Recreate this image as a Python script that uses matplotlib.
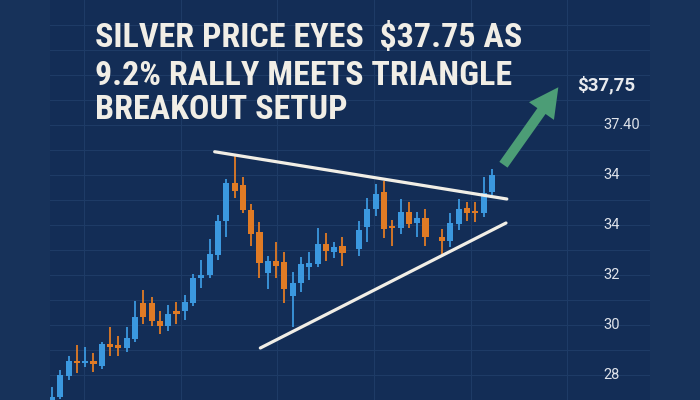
import numpy as np
import matplotlib
matplotlib.use("Agg")
import matplotlib.pyplot as plt
from matplotlib import font_manager as fm
from matplotlib.patches import FancyArrowPatch, ArrowStyle

# ---------------- data ----------------
days = list(range(0, 36)) + list(range(37, 46)) + list(range(47, 54))
opens  = [26.80, 27.12, 27.96, 28.57, 28.48, 28.56, 28.36, 29.24, 29.20, 29.08,
          29.44, 30.88, 30.88, 30.16, 29.96, 30.56, 30.56, 30.88, 31.88, 32.00,
          32.80, 34.16, 35.68, 35.60, 34.60, 33.72, 32.08, 32.56, 32.52, 31.16,
          31.68, 32.32, 32.44, 33.24, 32.92, 33.16, 33.04, 33.92, 34.64, 35.32,
          33.96, 33.88, 34.52, 34.08, 34.28, 33.52, 33.36, 34.04, 34.68, 34.56,
          34.48, 35.32]
closes = [27.12, 28.00, 28.56, 28.47, 28.56, 28.44, 29.24, 29.12, 29.08, 29.48,
          30.32, 30.32, 30.16, 29.96, 30.44, 30.44, 30.92, 31.88, 32.00, 32.84,
          34.16, 35.68, 35.36, 34.60, 33.64, 32.48, 32.56, 32.36, 31.44, 31.68,
          32.44, 32.48, 33.24, 32.96, 33.12, 32.88, 33.80, 34.64, 35.24, 33.84,
          33.88, 34.52, 34.04, 34.28, 33.52, 33.36, 34.08, 34.64, 34.48, 34.48,
          35.28, 36.00]
highs  = [27.52, 28.20, 28.76, 29.20, 29.12, 28.88, 29.32, 29.92, 29.56, 29.92,
          30.96, 31.40, 31.12, 30.56, 30.80, 30.92, 31.20, 32.04, 32.60, 33.44,
          34.40, 35.84, 36.80, 35.92, 34.84, 34.12, 32.76, 33.32, 32.92, 32.12,
          32.72, 32.92, 33.88, 33.68, 33.32, 33.52, 34.16, 35.08, 35.64, 35.76,
          34.20, 35.04, 34.92, 34.52, 34.64, 33.84, 34.48, 35.04, 34.92, 34.92,
          35.92, 36.24]
lows   = [26.60, 27.04, 27.80, 28.08, 28.32, 28.12, 28.24, 28.76, 28.76, 28.92,
          29.32, 30.04, 29.96, 29.64, 29.76, 30.04, 30.20, 30.76, 31.48, 31.88,
          32.60, 33.52, 35.08, 34.48, 33.16, 31.88, 31.44, 31.88, 30.88, 29.92,
          31.32, 31.80, 32.32, 32.56, 32.68, 32.36, 32.76, 33.32, 34.36, 33.48,
          33.16, 33.64, 33.88, 33.52, 33.16, 32.84, 33.12, 33.80, 34.16, 34.12,
          34.32, 35.20]

# triangle trend lines (day, price)
upper_line_x = [19.6, 54.8]
upper_line_y = [36.93, 35.04]
lower_line_x = [25.1, 54.7]
lower_line_y = [29.08, 34.08]

# breakout arrow (day, price)
arrow_start = (54.2, 36.32)
arrow_end = (61.2, 39.60)

# right-hand price labels
ytick_values = [28, 30, 32, 34, 36, 38]
ytick_labels = ["28", "30", "32", "34", "34", "37.40"]
target_label = "$37,75"
target_value = 39.6

title_lines = ["SILVER PRICE EYES  $37.75 AS",
               "9.2% RALLY MEETS TRIANGLE",
               "BREAKOUT SETUP"]

# ---------------- style ----------------
OUTER = "#17325a"
INNER = "#132d56"
GRID = "#1e3b66"
UP = "#3b98df"
DOWN = "#e07b25"
WHITE = "#f1eee6"
GREEN = "#4c9d76"

names = {f.name for f in fm.fontManager.ttflist}
title_font = next((n for n in ["Liberation Sans Narrow", "DejaVu Sans Condensed",
                               "Roboto Condensed", "Open Sans Condensed"] if n in names),
                  "DejaVu Sans")
label_font = "Roboto" if "Roboto" in names else "DejaVu Sans"

fig = plt.figure(figsize=(7, 4), dpi=100, facecolor=OUTER)
ax = fig.add_axes([50 / 700, 0, 600 / 700, 1])
ax.set_facecolor(INNER)
ax.set_xlim(-0.24, 72.05)
ax.set_ylim(27, 43)

# grid
for yv in np.arange(28, 43, 1.0):
    ax.axhline(yv, color=GRID, lw=0.8, zorder=0)
for xv in np.arange(3.86, 70, 11.65):
    ax.axvline(xv, color=GRID, lw=0.8, zorder=0)

# candles
o = np.array(opens); c = np.array(closes)
h = np.array(highs); l = np.array(lows)
d = np.array(days, dtype=float)
cols = [UP if cc >= oo else DOWN for oo, cc in zip(o, c)]
ax.vlines(d, l, h, colors=cols, lw=1.3, zorder=2)
body = np.maximum(np.abs(c - o), 0.09)
ax.bar(d, body, bottom=np.minimum(o, c), width=0.74, color=cols, zorder=3)

# triangle
ax.plot(upper_line_x, upper_line_y, color=WHITE, lw=2.3, solid_capstyle="round", zorder=4)
ax.plot(lower_line_x, lower_line_y, color=WHITE, lw=2.3, solid_capstyle="round", zorder=4)

# arrow
arr = FancyArrowPatch(arrow_start, arrow_end,
                      arrowstyle=ArrowStyle.Simple(head_length=1.05, head_width=1.1, tail_width=0.36),
                      mutation_scale=20, color=GREEN, lw=0, zorder=5)
ax.add_patch(arr)

# labels
for v, s in zip(ytick_values, ytick_labels):
    ax.text(0.9217, v, s, transform=ax.get_yaxis_transform(), ha="left", va="center",
            color="#dfe3ea", fontsize=10.5, family=label_font)
ax.text(0.878, target_value, target_label, transform=ax.get_yaxis_transform(), ha="left",
        va="center", color="#e8eaee", fontsize=13.5, fontweight="bold", family=label_font)

ax.set_xticks([]); ax.set_yticks([])
for sp in ax.spines.values():
    sp.set_visible(False)

# title
baselines = [47, 85, 119]
for line, b in zip(title_lines, baselines):
    fig.text(95 / 700, 1 - b / 400, line, ha="left", va="baseline", color=WHITE,
             fontsize=24.5, fontweight="bold", family=title_font)

fig.savefig("out.png", dpi=100, facecolor=OUTER)
